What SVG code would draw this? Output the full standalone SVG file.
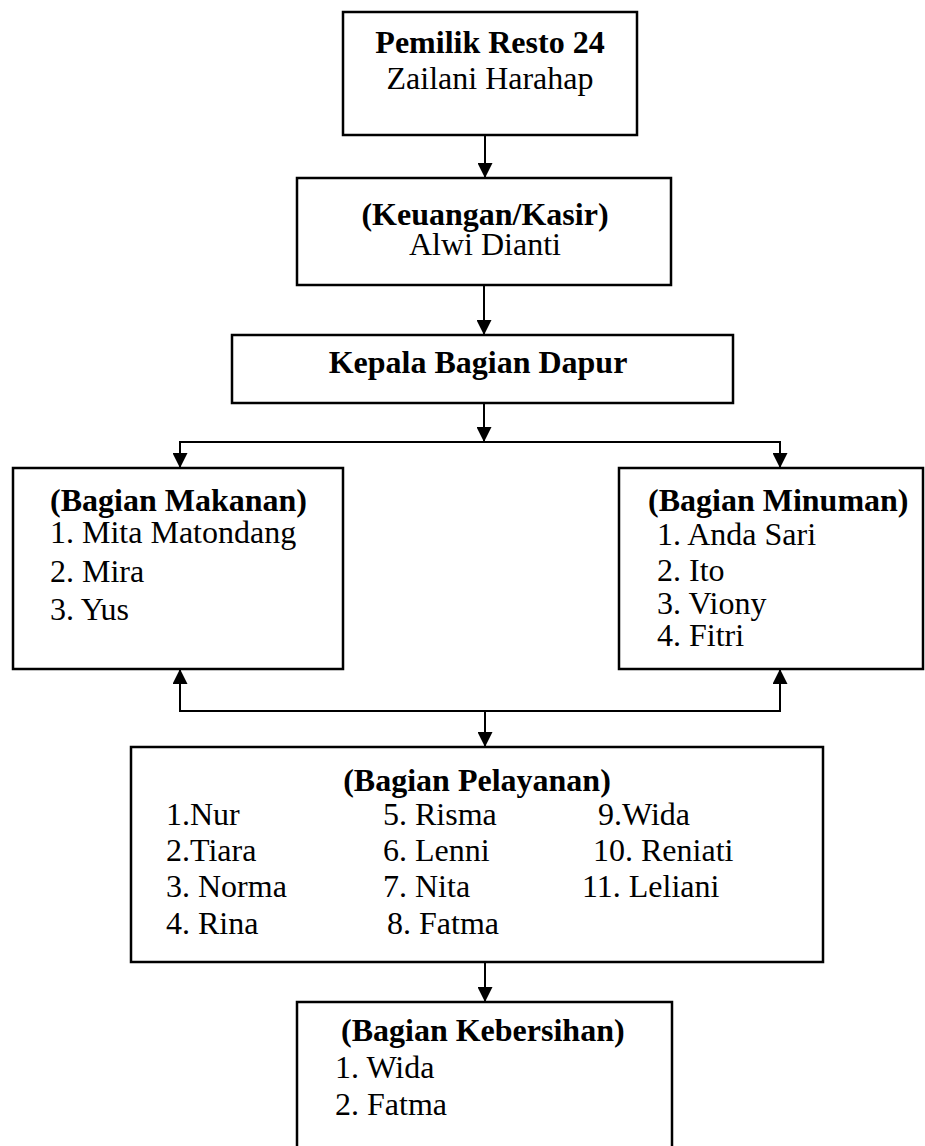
<svg xmlns="http://www.w3.org/2000/svg" width="925" height="1146" viewBox="0 0 925 1146">
<style>
.box{fill:#fff;stroke:#000;stroke-width:2.5}
.t{font-family:"Liberation Serif","Times New Roman",serif;font-size:32px;fill:#000}
.b{font-weight:bold}
.c{text-anchor:middle}
.ln{fill:none;stroke:#000;stroke-width:2}
</style>
<defs>
<marker id="ah" viewBox="0 0 10 10" refX="10" refY="5" markerWidth="15" markerHeight="15" markerUnits="userSpaceOnUse" orient="auto">
<path d="M0,0 L10,5 L0,10 z" fill="#000"/>
</marker>
</defs>
<rect width="925" height="1146" fill="#fff"/>
<g id="connectors">
<line class="ln" x1="485" y1="135" x2="485" y2="178" marker-end="url(#ah)"/>
<line class="ln" x1="484" y1="285" x2="484" y2="335" marker-end="url(#ah)"/>
<line class="ln" x1="484" y1="403" x2="484" y2="442" marker-end="url(#ah)"/>
<polyline class="ln" points="180,468 180,442 780,442 780,468"/>
<line class="ln" x1="180" y1="442" x2="180" y2="468" marker-end="url(#ah)"/>
<line class="ln" x1="780" y1="442" x2="780" y2="468" marker-end="url(#ah)"/>
<polyline class="ln" points="180,669 180,711 780,711 780,669"/>
<line class="ln" x1="180" y1="711" x2="180" y2="669" marker-end="url(#ah)"/>
<line class="ln" x1="780" y1="711" x2="780" y2="669" marker-end="url(#ah)"/>
<line class="ln" x1="485" y1="711" x2="485" y2="747" marker-end="url(#ah)"/>
<line class="ln" x1="485" y1="962" x2="485" y2="1002" marker-end="url(#ah)"/>
</g>
<g id="pemilik">
<rect class="box" x="343" y="12" width="294" height="123"/>
<text class="t b c" x="490" y="53">Pemilik Resto 24</text>
<text class="t c" x="490" y="89">Zailani Harahap</text>
</g>
<g id="keuangan">
<rect class="box" x="297" y="178" width="374" height="107"/>
<text class="t b c" x="485" y="225">(Keuangan/Kasir)</text>
<text class="t c" x="485" y="255">Alwi Dianti</text>
</g>
<g id="kepala">
<rect class="box" x="232" y="335" width="501" height="68"/>
<text class="t b c" x="478" y="373">Kepala Bagian Dapur</text>
</g>
<g id="makanan">
<rect class="box" x="13" y="468" width="330" height="201"/>
<text class="t b" x="50" y="511">(Bagian Makanan)</text>
<text class="t" x="50" y="543">1. Mita Matondang</text>
<text class="t" x="50" y="582">2. Mira</text>
<text class="t" x="50" y="620">3. Yus</text>
</g>
<g id="minuman">
<rect class="box" x="619" y="468" width="304" height="201"/>
<text class="t b" x="648" y="511">(Bagian Minuman)</text>
<text class="t" x="657" y="545">1. Anda Sari</text>
<text class="t" x="657" y="581">2. Ito</text>
<text class="t" x="657" y="614">3. Viony</text>
<text class="t" x="657" y="646">4. Fitri</text>
</g>
<g id="pelayanan">
<rect class="box" x="131" y="747" width="692" height="215"/>
<text class="t b c" x="477" y="791">(Bagian Pelayanan)</text>
<text class="t" x="166" y="825">1.Nur</text>
<text class="t" x="166" y="861">2.Tiara</text>
<text class="t" x="166" y="897">3. Norma</text>
<text class="t" x="166" y="934">4. Rina</text>
<text class="t" x="383" y="825">5. Risma</text>
<text class="t" x="383" y="861">6. Lenni</text>
<text class="t" x="383" y="897">7. Nita</text>
<text class="t" x="387" y="934">8. Fatma</text>
<text class="t" x="598" y="825">9.Wida</text>
<text class="t" x="593" y="861">10. Reniati</text>
<text class="t" x="582" y="897">11. Leliani</text>
</g>
<g id="kebersihan">
<rect class="box" x="297" y="1002" width="375" height="160"/>
<text class="t b" x="341" y="1041">(Bagian Kebersihan)</text>
<text class="t" x="335" y="1078">1. Wida</text>
<text class="t" x="335" y="1115">2. Fatma</text>
</g>
</svg>
